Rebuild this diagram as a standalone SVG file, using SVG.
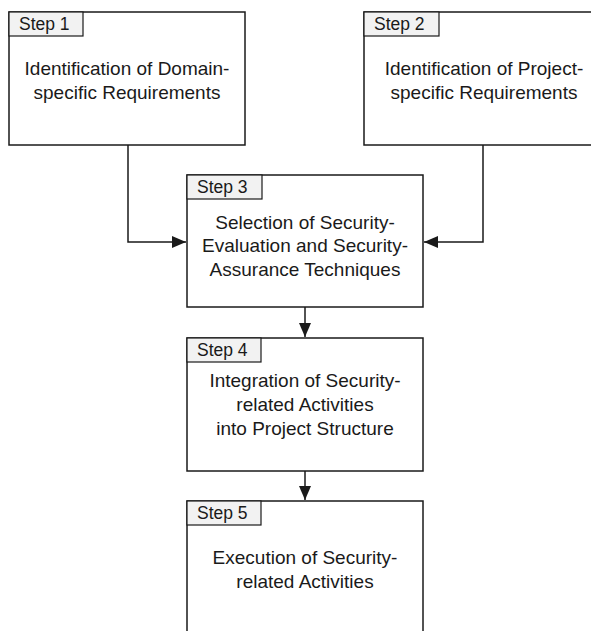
<svg xmlns="http://www.w3.org/2000/svg" width="591" height="631" viewBox="0 0 591 631">
<defs>
<style>
.box{fill:#ffffff;stroke:#1a1a1a;stroke-width:1.5}
.tab{fill:#f2f2f2;stroke:#1a1a1a;stroke-width:1.2}
.lbl{font-family:"Liberation Sans",Arial,sans-serif;font-size:17.5px;fill:#1a1a1a}
.txt{font-family:"Liberation Sans",Arial,sans-serif;font-size:19px;fill:#1a1a1a;text-anchor:middle}
.con{fill:none;stroke:#1a1a1a;stroke-width:1.5}
</style>
<marker id="arrL" viewBox="0 0 14 12" refX="14" refY="6" markerWidth="14" markerHeight="12" markerUnits="userSpaceOnUse" orient="auto">
<path d="M0,0 L14,6 L0,12 Z" fill="#1a1a1a"/>
</marker>
</defs>
<rect width="591" height="631" fill="#ffffff"/>
<g id="connectors">
<path class="con" d="M128,145 V242 H186" marker-end="url(#arrL)"/>
<path class="con" d="M483,145 V242 H424" marker-end="url(#arrL)"/>
<path class="con" d="M305,307 V337" marker-end="url(#arrL)"/>
<path class="con" d="M305,471 V500" marker-end="url(#arrL)"/>
</g>
<g id="step1">
<rect class="box" x="9" y="12" width="236" height="133"/>
<rect class="tab" x="9" y="12" width="74" height="24"/>
<text class="lbl" x="19" y="30">Step 1</text>
<text class="txt" x="127" y="75">Identification of Domain-</text>
<text class="txt" x="127" y="99">specific Requirements</text>
</g>
<g id="step2">
<rect class="box" x="364" y="12" width="238" height="133"/>
<rect class="tab" x="364" y="12" width="75" height="24"/>
<text class="lbl" x="374" y="30">Step 2</text>
<text class="txt" x="484" y="75">Identification of Project-</text>
<text class="txt" x="484" y="99">specific Requirements</text>
</g>
<g id="step3">
<rect class="box" x="187" y="175" width="236" height="132"/>
<rect class="tab" x="187" y="175" width="75" height="24"/>
<text class="lbl" x="197" y="193">Step 3</text>
<text class="txt" x="305" y="229">Selection of Security-</text>
<text class="txt" x="305" y="252">Evaluation and Security-</text>
<text class="txt" x="305" y="276">Assurance Techniques</text>
</g>
<g id="step4">
<rect class="box" x="187" y="338" width="236" height="133"/>
<rect class="tab" x="187" y="338" width="74" height="24"/>
<text class="lbl" x="197" y="356">Step 4</text>
<text class="txt" x="305" y="387">Integration of Security-</text>
<text class="txt" x="305" y="411">related Activities</text>
<text class="txt" x="305" y="435">into Project Structure</text>
</g>
<g id="step5">
<rect class="box" x="187" y="501" width="236" height="140"/>
<rect class="tab" x="187" y="501" width="74" height="24"/>
<text class="lbl" x="197" y="519">Step 5</text>
<text class="txt" x="305" y="564">Execution of Security-</text>
<text class="txt" x="305" y="588">related Activities</text>
</g>
</svg>
